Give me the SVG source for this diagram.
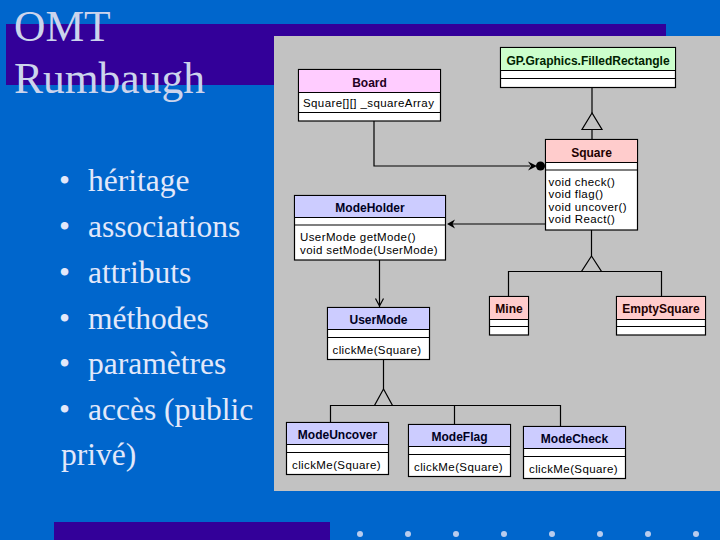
<svg xmlns="http://www.w3.org/2000/svg" width="720" height="540" viewBox="0 0 720 540">
<defs>
<style>
.bg{fill:#0066CC}
.band{fill:#330099}
.title{font-family:"Liberation Serif","Times New Roman",serif;font-size:43.5px;fill:#CCD4EC}
.bul{font-family:"Liberation Serif","Times New Roman",serif;font-size:31.5px;fill:#E2E8FA}
.box{fill:#FFFFFF;stroke:#000;stroke-width:1.2}
.sep{stroke:#000;stroke-width:1.2;fill:none}
.hd{font-family:"Liberation Sans",Arial,sans-serif;font-size:12px;font-weight:bold;text-anchor:middle}
.tx{font-family:"Liberation Sans",Arial,sans-serif;font-size:11.5px;letter-spacing:0.4px;fill:#000}
.ln{stroke:#000;stroke-width:1.2;fill:none}
.dot{fill:#B8CCEE}
</style>
</defs>
<rect class="bg" x="0" y="0" width="720" height="540"/>
<rect class="band" x="6" y="24" width="660" height="61"/>
<rect x="274" y="36" width="446" height="455" fill="#C2C2C2"/>
<rect class="band" x="54" y="522" width="276" height="18"/>
<g id="dots">
<circle class="dot" cx="360" cy="534" r="3"/>
<circle class="dot" cx="408" cy="534" r="3"/>
<circle class="dot" cx="456" cy="534" r="3"/>
<circle class="dot" cx="504" cy="534" r="3"/>
<circle class="dot" cx="552" cy="534" r="3"/>
<circle class="dot" cx="600" cy="534" r="3"/>
<circle class="dot" cx="648" cy="534" r="3"/>
<circle class="dot" cx="696" cy="534" r="3"/>
</g>
<g id="title">
<text class="title" x="14" y="41">OMT</text>
<text class="title" x="14" y="93">Rumbaugh</text>
</g>
<g id="bullets">
<text class="bul" x="59" y="191">•</text><text class="bul" x="88" y="191">héritage</text>
<text class="bul" x="59" y="237">•</text><text class="bul" x="88" y="237">associations</text>
<text class="bul" x="59" y="283">•</text><text class="bul" x="88" y="283">attributs</text>
<text class="bul" x="59" y="329">•</text><text class="bul" x="88" y="329">méthodes</text>
<text class="bul" x="59" y="374">•</text><text class="bul" x="88" y="374">paramètres</text>
<text class="bul" x="59" y="420">•</text><text class="bul" x="88" y="420">accès (public</text>
<text class="bul" x="61" y="465">privé)</text>
</g>
<g id="connectors">
<path class="ln" d="M592,87.5 V113 M592,129.5 V139.5"/>
<polygon class="ln" points="592,113 582,129.5 602,129.5"/>
<path class="ln" d="M374,121 V166 H530"/>
<polygon points="528,161.5 537,166 528,170.5 531,166" fill="#000"/>
<circle cx="540.5" cy="166" r="4.5" fill="#000"/>
<path class="ln" d="M545.5,224 H450"/>
<polygon points="447,224 455,219.5 452.5,224 455,228.5" fill="#000"/>
<path class="ln" d="M591.5,230 V256 M508.5,296.5 V271.5 H661.5 V296.5"/>
<polygon class="ln" points="591.5,256 581.5,271.5 601.5,271.5" fill="#C2C2C2"/>
<path class="ln" d="M379.5,260 V307 M375.5,298.5 L379.5,306 L383.5,298.5"/>
<path class="ln" d="M383.5,359.5 V389 M330.5,422.5 V405.5 H560.5 V426.5 M454.5,405.5 V424.5"/>
<polygon class="ln" points="383.5,389 374.5,405.5 392.5,405.5" fill="#C2C2C2"/>
</g>
<g id="GP">
<rect class="box" x="500.5" y="47.5" width="175" height="40"/>
<rect x="501" y="48" width="174" height="22.5" fill="#CCFFCC"/>
<path class="sep" d="M500.5,70.5 H675.5 M500.5,78.5 H675.5"/>
<text class="hd" x="588" y="64.5" fill="#002200">GP.Graphics.FilledRectangle</text>
</g>
<g id="Board">
<rect class="box" x="298.5" y="69.5" width="142" height="51.5"/>
<rect x="299" y="70" width="141" height="22.5" fill="#FFCCFF"/>
<path class="sep" d="M298.5,92.5 H440.5 M298.5,112.5 H440.5"/>
<text class="hd" x="369.5" y="86.5" fill="#220022">Board</text>
<text class="tx" x="303" y="107">Square[][] _squareArray</text>
</g>
<g id="Square">
<rect class="box" x="545.5" y="139.5" width="92" height="90.5"/>
<rect x="546" y="140" width="91" height="22.5" fill="#FFCCCC"/>
<path class="sep" d="M545.5,162.5 H637.5 M545.5,170 H637.5"/>
<text class="hd" x="591.5" y="157" fill="#220000">Square</text>
<text class="tx" x="548.5" y="185.5">void check()</text>
<text class="tx" x="548.5" y="198">void flag()</text>
<text class="tx" x="548.5" y="210.5">void uncover()</text>
<text class="tx" x="548.5" y="223">void React()</text>
</g>
<g id="ModeHolder">
<rect class="box" x="294.5" y="195.5" width="151" height="64.5"/>
<rect x="295" y="196" width="150" height="21.5" fill="#CCCCFF"/>
<path class="sep" d="M294.5,217.5 H445.5 M294.5,225 H445.5"/>
<text class="hd" x="370" y="212" fill="#000022">ModeHolder</text>
<text class="tx" x="300" y="241">UserMode getMode()</text>
<text class="tx" x="300" y="253.5">void setMode(UserMode)</text>
</g>
<g id="Mine">
<rect class="box" x="489.5" y="296.5" width="39" height="38.5"/>
<rect x="490" y="297" width="38" height="22.5" fill="#FFCCCC"/>
<path class="sep" d="M489.5,319.5 H528.5 M489.5,326.5 H528.5"/>
<text class="hd" x="509" y="313" fill="#220000">Mine</text>
</g>
<g id="EmptySquare">
<rect class="box" x="616.5" y="296.5" width="89" height="38.5"/>
<rect x="617" y="297" width="88" height="22.5" fill="#FFCCCC"/>
<path class="sep" d="M616.5,319.5 H705.5 M616.5,326.5 H705.5"/>
<text class="hd" x="661" y="313" fill="#220000">EmptySquare</text>
</g>
<g id="UserMode">
<rect class="box" x="327.5" y="307.5" width="102" height="52"/>
<rect x="328" y="308" width="101" height="21.5" fill="#CCCCFF"/>
<path class="sep" d="M327.5,329.5 H429.5 M327.5,337.5 H429.5"/>
<text class="hd" x="378.5" y="324" fill="#000022">UserMode</text>
<text class="tx" x="332.5" y="353.5">clickMe(Square)</text>
</g>
<g id="ModeUncover">
<rect class="box" x="286.5" y="422.5" width="102" height="52"/>
<rect x="287" y="423" width="101" height="21.5" fill="#CCCCFF"/>
<path class="sep" d="M286.5,444.5 H388.5 M286.5,452.5 H388.5"/>
<text class="hd" x="337.5" y="439" fill="#000022">ModeUncover</text>
<text class="tx" x="292" y="468.5">clickMe(Square)</text>
</g>
<g id="ModeFlag">
<rect class="box" x="408.5" y="424.5" width="102" height="52"/>
<rect x="409" y="425" width="101" height="21.5" fill="#CCCCFF"/>
<path class="sep" d="M408.5,446.5 H510.5 M408.5,454.5 H510.5"/>
<text class="hd" x="459.5" y="441" fill="#000022">ModeFlag</text>
<text class="tx" x="414" y="470.5">clickMe(Square)</text>
</g>
<g id="ModeCheck">
<rect class="box" x="523.5" y="426.5" width="102" height="52"/>
<rect x="524" y="427" width="101" height="21.5" fill="#CCCCFF"/>
<path class="sep" d="M523.5,448.5 H625.5 M523.5,456.5 H625.5"/>
<text class="hd" x="574.5" y="443" fill="#000022">ModeCheck</text>
<text class="tx" x="529" y="472.5">clickMe(Square)</text>
</g>
</svg>
